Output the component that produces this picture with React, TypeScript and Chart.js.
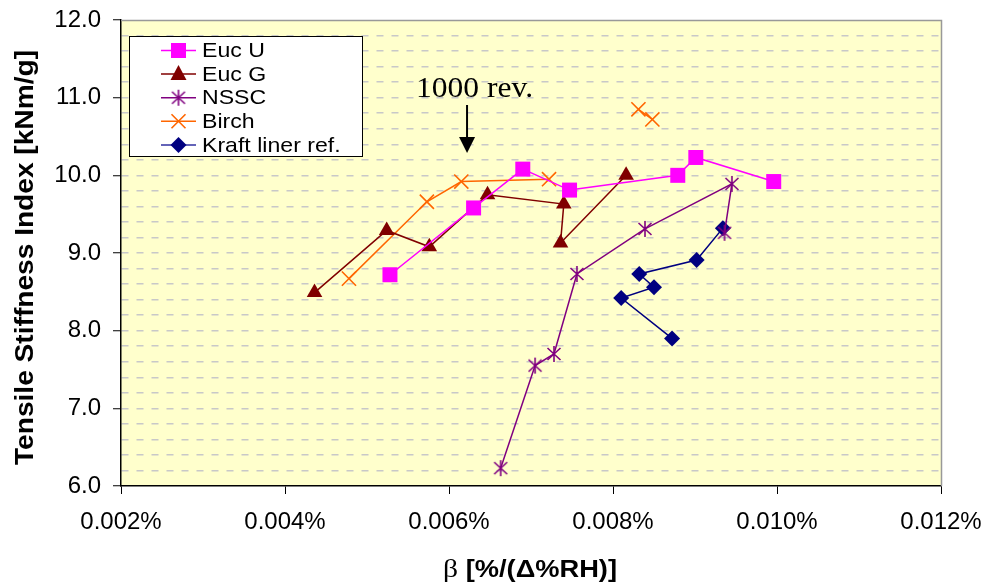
import React, { useEffect, useRef } from 'react';
import { Chart, registerables } from 'chart.js';

Chart.register(...registerables);

// ---- data (β in %, tensile stiffness index in kNm/g) ----
const eucUX = [0.00528, 0.0063, 0.0069, 0.00747, 0.00879, 0.00901, 0.00996];
const eucUY = [8.72, 9.58, 10.08, 9.81, 10.0, 10.23, 9.92];

const eucGX = [0.00436, 0.00524, 0.00576, 0.00647, 0.0074, 0.00736, 0.00816];
const eucGY = [8.49, 9.29, 9.08, 9.75, 9.63, 9.13, 10.0];

const nsscX = [0.00663, 0.00705, 0.00728, 0.00756, 0.00839, 0.00945, 0.00936];
const nsscY = [6.23, 7.55, 7.7, 8.73, 9.31, 9.89, 9.26];

const birchX = [0.00478, 0.00573, 0.00615, 0.00722, null, 0.00831, 0.00848];
const birchY = [8.67, 9.66, 9.92, 9.95, null, 10.85, 10.72];

const kraftX = [0.00872, 0.0081, 0.0085, 0.00832, 0.00902, 0.00934];
const kraftY = [7.9, 8.42, 8.56, 8.73, 8.91, 9.32];

const seriesLabels = ['Euc U', 'Euc G', 'NSSC', 'Birch', 'Kraft liner ref.'];
const xTicksMin = 0.002;
const xTicksMax = 0.012;
const xTickStep = 0.002;
const yMin = 6;
const yMax = 12;
const yGridStep = 0.2;

const annotationText = '1000 rev.';
const annotationX = 0.00622;
const yTitle = 'Tensile Stiffness Index [kNm/g]';
const xTitleSymbol = 'β';
const xTitleRest = ' [%/(Δ%RH)]';

const SANS = '"Liberation Sans", Arial, sans-serif';
const SERIF = '"Liberation Serif", "Times New Roman", serif';

const COLORS = {
  eucU: '#FF00FF',
  eucG: '#800000',
  nssc: '#800080',
  birch: '#FF6600',
  kraft: '#000080',
};

function pts(xs: (number | null)[], ys: (number | null)[]) {
  return xs.map((x, i) => ({ x, y: ys[i] }));
}

function makeAsterisk(color: string) {
  const c = document.createElement('canvas');
  c.width = 16;
  c.height = 18;
  const g = c.getContext('2d')!;
  g.strokeStyle = color;
  g.lineWidth = 1.6;
  g.beginPath();
  g.moveTo(8, 1);
  g.lineTo(8, 17);
  g.moveTo(1.5, 3);
  g.lineTo(14.5, 15);
  g.moveTo(14.5, 3);
  g.lineTo(1.5, 15);
  g.stroke();
  return c;
}

function fitText(ctx: CanvasRenderingContext2D, text: string, x: number, y: number, font: string, width: number, align: CanvasTextAlign = 'center') {
  ctx.save();
  ctx.font = font;
  const w = ctx.measureText(text).width;
  const s = width / w;
  ctx.translate(x, y);
  ctx.scale(s, 1);
  ctx.textAlign = align;
  ctx.fillText(text, 0, 0);
  ctx.restore();
}

function drawMarker(ctx: CanvasRenderingContext2D, kind: string, x: number, y: number, color: string, img?: HTMLCanvasElement) {
  ctx.save();
  ctx.fillStyle = color;
  ctx.strokeStyle = color;
  ctx.lineWidth = 1.6;
  ctx.beginPath();
  if (kind === 'rect') {
    ctx.rect(x - 7.5, y - 7.5, 15, 15);
    ctx.fill();
  } else if (kind === 'triangle') {
    ctx.moveTo(x, y - 9);
    ctx.lineTo(x + 8, y + 6);
    ctx.lineTo(x - 8, y + 6);
    ctx.closePath();
    ctx.fill();
  } else if (kind === 'crossRot') {
    ctx.moveTo(x - 7, y - 7);
    ctx.lineTo(x + 7, y + 7);
    ctx.moveTo(x + 7, y - 7);
    ctx.lineTo(x - 7, y + 7);
    ctx.stroke();
  } else if (kind === 'rectRot') {
    ctx.moveTo(x - 8, y);
    ctx.lineTo(x, y - 8);
    ctx.lineTo(x + 8, y);
    ctx.lineTo(x, y + 8);
    ctx.closePath();
    ctx.fill();
  } else if (kind === 'image' && img) {
    ctx.drawImage(img, x - img.width / 2, y - img.height / 2);
  }
  ctx.restore();
}

export default function App() {
  const ref = useRef<HTMLCanvasElement | null>(null);

  useEffect(() => {
    if (!ref.current) return;
    const asterisk = makeAsterisk(COLORS.nssc);

    const legendItems = [
      { kind: 'rect', color: COLORS.eucU, line: COLORS.eucU },
      { kind: 'triangle', color: COLORS.eucG, line: COLORS.eucG },
      { kind: 'image', color: COLORS.nssc, line: COLORS.nssc },
      { kind: 'crossRot', color: COLORS.birch, line: COLORS.birch },
      { kind: 'rectRot', color: COLORS.kraft, line: '#3030A0' },
    ];

    const decor = {
      id: 'decor',
      beforeDraw(chart: any) {
        const { ctx, chartArea: a } = chart;
        ctx.save();
        ctx.fillStyle = '#FFFFCC';
        ctx.fillRect(a.left, a.top, a.right - a.left, a.bottom - a.top);
        ctx.restore();
      },
      afterDraw(chart: any) {
        const { ctx, chartArea: a } = chart;
        const xs = chart.scales.x;
        // top & right border (grey)
        ctx.save();
        ctx.strokeStyle = '#999999';
        ctx.lineWidth = 1.5;
        ctx.beginPath();
        ctx.moveTo(a.left, a.top + 0.5);
        ctx.lineTo(a.right + 0.5, a.top + 0.5);
        ctx.lineTo(a.right + 0.5, a.bottom);
        ctx.stroke();
        ctx.restore();

        // legend
        ctx.save();
        ctx.fillStyle = '#FFFFFF';
        ctx.strokeStyle = '#000000';
        ctx.lineWidth = 1;
        ctx.fillRect(129.5, 36.5, 233, 120);
        ctx.strokeRect(129.5, 36.5, 233, 120);
        legendItems.forEach((it, i) => {
          const cy = 50.5 + i * 23.6;
          ctx.strokeStyle = it.line;
          ctx.lineWidth = 1.5;
          ctx.beginPath();
          ctx.moveTo(161, cy);
          ctx.lineTo(196, cy);
          ctx.stroke();
          drawMarker(ctx, it.kind, 178.5, cy, it.color, asterisk);
          ctx.fillStyle = '#000000';
          ctx.textBaseline = 'middle';
          ctx.font = `21px ${SANS}`;
          const w = ctx.measureText(seriesLabels[i]).width;
          fitText(ctx, seriesLabels[i], 202, cy + 1, `21px ${SANS}`, w * 1.1, 'left');
        });
        ctx.restore();

        // annotation
        const ax = xs.getPixelForValue(annotationX);
        ctx.save();
        ctx.fillStyle = '#000000';
        ctx.textBaseline = 'alphabetic';
        fitText(ctx, annotationText, ax + 7.5, 97, `30px ${SERIF}`, 117, 'center');
        ctx.strokeStyle = '#000000';
        ctx.lineWidth = 2;
        ctx.beginPath();
        ctx.moveTo(ax, 105);
        ctx.lineTo(ax, 140);
        ctx.stroke();
        ctx.beginPath();
        ctx.moveTo(ax - 8, 137);
        ctx.lineTo(ax + 8, 137);
        ctx.lineTo(ax, 153);
        ctx.closePath();
        ctx.fill();
        ctx.restore();

        // y title
        ctx.save();
        ctx.fillStyle = '#000000';
        ctx.translate(33, 257.5);
        ctx.rotate(-Math.PI / 2);
        ctx.textBaseline = 'alphabetic';
        fitText(ctx, yTitle, 0, 0, `bold 25px ${SANS}`, 415, 'center');
        ctx.restore();

        // x title
        ctx.save();
        ctx.fillStyle = '#000000';
        ctx.textBaseline = 'alphabetic';
        const f1 = `25px ${SERIF}`;
        const f2 = `bold 23px ${SANS}`;
        ctx.font = f1;
        const w1 = ctx.measureText(xTitleSymbol).width;
        ctx.font = f2;
        const w2 = ctx.measureText(xTitleRest).width;
        const s = 174 / (w1 + w2);
        const startX = 443;
        ctx.translate(startX, 577);
        ctx.scale(s, 1);
        ctx.textAlign = 'left';
        ctx.font = f1;
        ctx.fillText(xTitleSymbol, 0, 0);
        ctx.font = f2;
        ctx.fillText(xTitleRest, w1, 0);
        ctx.restore();
      },
    };

    const common = { showLine: true, tension: 0, borderWidth: 1.5, spanGaps: false };

    const chart = new Chart(ref.current, {
      type: 'scatter',
      data: {
        datasets: [
          {
            ...common,
            label: seriesLabels[0],
            data: pts(eucUX, eucUY) as any,
            borderColor: COLORS.eucU,
            backgroundColor: COLORS.eucU,
            pointStyle: 'rect',
            pointRadius: 10.6,
            pointBorderWidth: 0,
          },
          {
            ...common,
            label: seriesLabels[1],
            data: pts(eucGX, eucGY) as any,
            borderColor: COLORS.eucG,
            backgroundColor: COLORS.eucG,
            pointStyle: 'triangle',
            pointRadius: 9,
            pointBorderWidth: 0,
          },
          {
            ...common,
            label: seriesLabels[2],
            data: pts(nsscX, nsscY) as any,
            borderColor: COLORS.nssc,
            backgroundColor: COLORS.nssc,
            pointStyle: asterisk as any,
          },
          {
            ...common,
            label: seriesLabels[3],
            data: pts(birchX, birchY) as any,
            borderColor: COLORS.birch,
            backgroundColor: COLORS.birch,
            pointStyle: 'crossRot',
            pointRadius: 10,
            pointBorderWidth: 1.6,
          },
          {
            ...common,
            label: seriesLabels[4],
            data: pts(kraftX, kraftY) as any,
            borderColor: COLORS.kraft,
            backgroundColor: COLORS.kraft,
            pointStyle: 'rectRot',
            pointRadius: 8,
            pointBorderWidth: 0,
          },
        ],
      },
      options: {
        animation: false,
        responsive: true,
        maintainAspectRatio: false,
        layout: { padding: { top: 20, right: 45, left: 0, bottom: 0 } },
        plugins: {
          legend: { display: false },
          tooltip: { enabled: false },
          title: { display: false },
        },
        scales: {
          x: {
            type: 'linear',
            min: xTicksMin,
            max: xTicksMax,
            afterFit: (s: any) => {
              s.height = 99;
              s.paddingLeft = 0;
              s.paddingRight = 0;
            },
            ticks: {
              stepSize: xTickStep,
              autoSkip: false,
              maxRotation: 0,
              padding: 14,
              color: '#000000',
              font: { family: SANS, size: 24 },
              callback: (v: any) => `${Number(v).toFixed(3)}%`,
            },
            grid: {
              drawOnChartArea: false,
              tickLength: 8,
              tickColor: '#000000',
              color: '#000000',
            },
            border: { display: true, color: '#000000', width: 1.5 },
          },
          y: {
            type: 'linear',
            min: yMin,
            max: yMax,
            afterFit: (s: any) => {
              s.width = 121;
              s.paddingTop = 0;
              s.paddingBottom = 0;
            },
            ticks: {
              stepSize: yGridStep,
              autoSkip: false,
              padding: 12,
              color: '#000000',
              font: { family: SANS, size: 24 },
              callback: (v: any) => {
                const n = Number(v);
                return Math.abs(n - Math.round(n)) < 1e-6 ? n.toFixed(1) : '';
              },
            },
            grid: {
              drawOnChartArea: true,
              tickLength: 8,
              color: (c: any) => {
                const v = c.tick ? c.tick.value : 0;
                if (Math.abs(v - yMin) < 1e-6 || Math.abs(v - yMax) < 1e-6) return 'rgba(0,0,0,0)';
                return '#C8C8C8';
              },
              lineWidth: 1.5,
              tickColor: (c: any) => {
                const v = c.tick ? c.tick.value : 0;
                return Math.abs(v - Math.round(v)) < 1e-6 ? '#000000' : 'rgba(0,0,0,0)';
              },
              tickWidth: 1,
            },
            border: { display: true, color: '#000000', width: 1.5, dash: [7, 8] },
          },
        },
      },
      plugins: [decor],
    });

    return () => chart.destroy();
  }, []);

  return (
    <div style={{ position: 'absolute', left: 0, top: 0, width: 986, height: 585, background: '#FFFFFF' }}>
      <canvas ref={ref} />
    </div>
  );
}
